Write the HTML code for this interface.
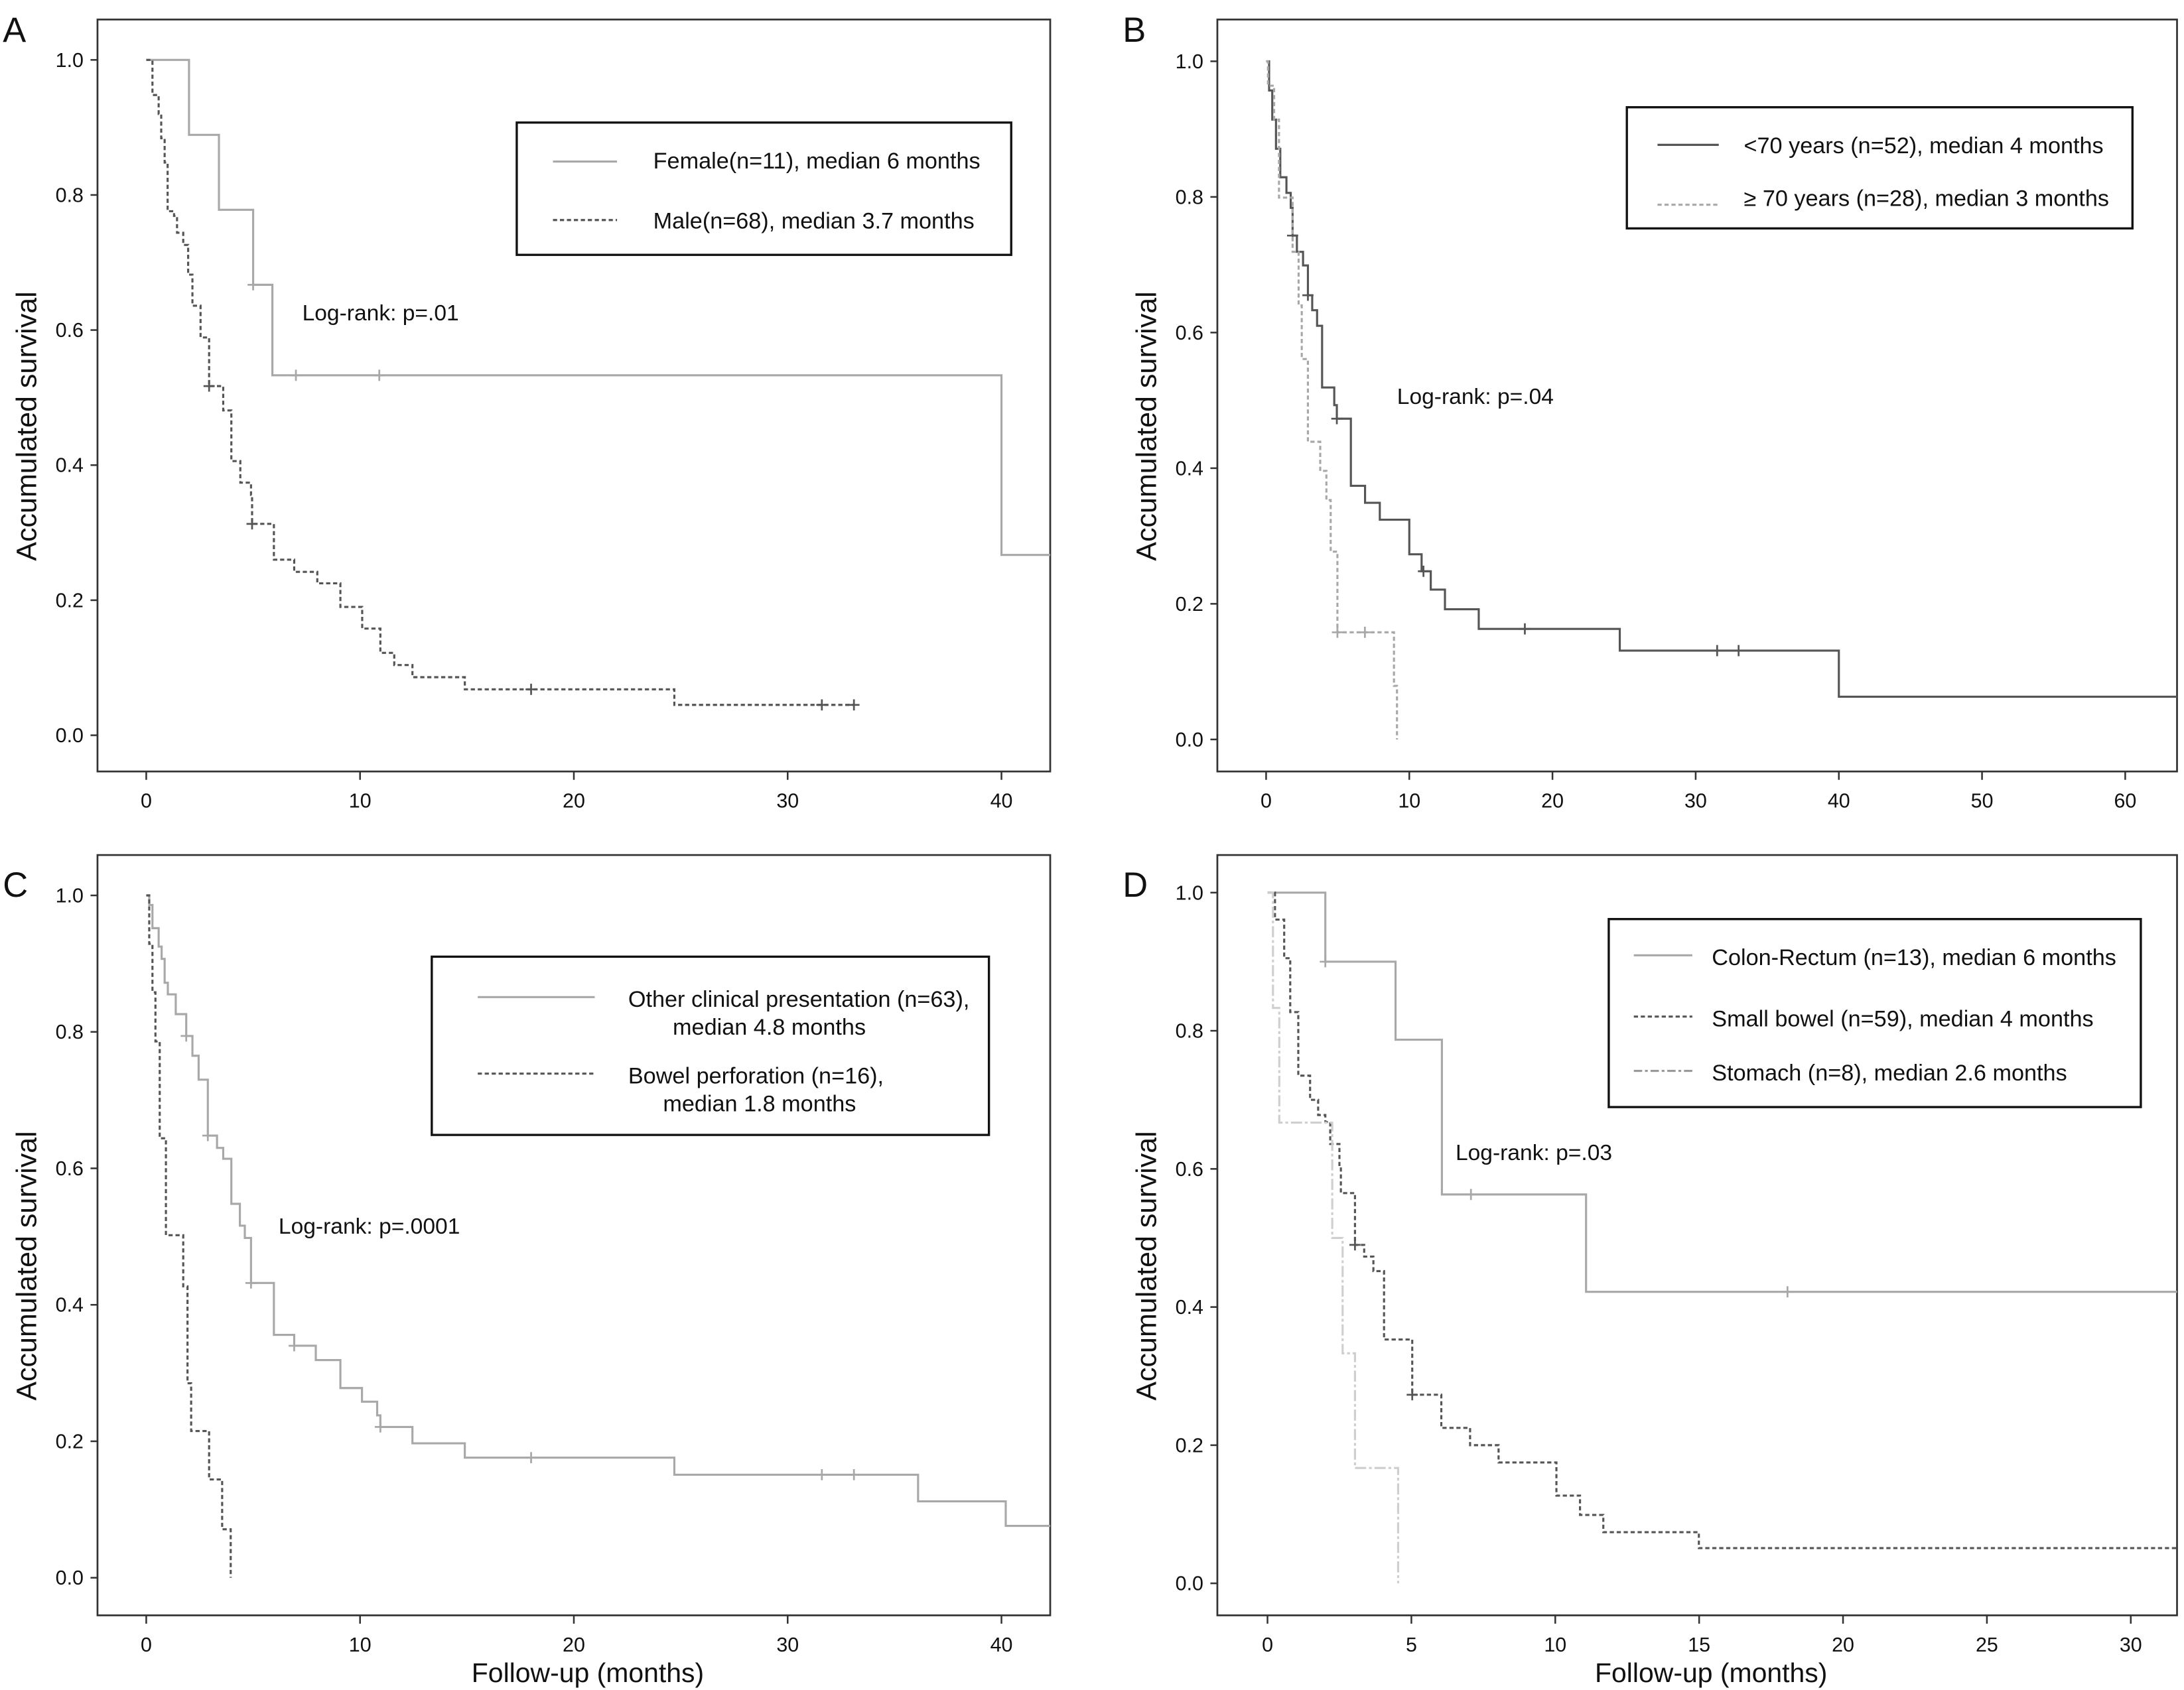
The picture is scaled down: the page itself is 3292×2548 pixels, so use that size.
<!DOCTYPE html>
<html><head><meta charset="utf-8"><style>
html,body{margin:0;padding:0;background:#fff}
svg{display:block}
text{font-family:"Liberation Sans",Arial,sans-serif;fill:#111}
</style></head><body>
<svg id="chart" width="3292" height="2548" viewBox="0 0 1568 1213.6" xmlns="http://www.w3.org/2000/svg"></svg>
<script>
// Panel A
const aFemaleT=[2.0,3.4,5.0,5.9,40];
const aFemaleS=[0.889,0.778,0.667,0.533,0.267];
const aFemaleC=[5.0,7.0,10.9];
const aMaleT=[0.29,0.58,0.7,0.86,1.0,1.3,1.44,1.73,1.96,2.16,2.54,2.94,3.6,3.98,4.4,4.9,4.95,5.97,6.92,8.0,9.08,10.1,10.95,11.6,12.45,14.9,24.7];
const aMaleS=[0.948,0.92,0.884,0.848,0.776,0.769,0.744,0.726,0.682,0.636,0.589,0.517,0.481,0.406,0.374,0.356,0.313,0.26,0.242,0.225,0.19,0.158,0.122,0.104,0.086,0.068,0.045];
const aMaleC=[2.94,4.95,18.0,31.6,33.1];
const aMaleEnd=33.1;
// Panel B
const bYoungT=[0.21,0.43,0.69,0.99,1.42,1.72,1.85,2.15,2.58,2.92,3.22,3.56,3.91,4.76,4.94,5.92,6.91,7.94,10.0,10.86,11.5,12.49,14.85,24.7,40.0];
const bYoungS=[0.957,0.914,0.871,0.829,0.806,0.784,0.743,0.719,0.699,0.655,0.633,0.61,0.519,0.493,0.473,0.374,0.349,0.324,0.273,0.248,0.221,0.192,0.163,0.131,0.063];
const bYoungC=[1.85,2.92,4.94,10.99,18.07,31.5,33.0];
const bOldT=[0.13,0.56,0.9,1.85,2.27,2.49,2.92,3.78,4.21,4.51,4.98,8.93,9.14];
const bOldS=[0.964,0.914,0.799,0.719,0.64,0.561,0.439,0.396,0.353,0.277,0.158,0.079,0];
const bOldC=[4.98,6.9];
const bOldEnd=9.14;
// Panel C
const cOtherT=[0.14,0.29,0.58,0.72,0.86,1.01,1.38,1.87,2.16,2.45,2.88,3.31,3.6,3.98,4.38,4.61,4.9,5.97,6.92,7.93,9.08,10.09,10.8,10.95,12.45,14.9,24.7,36.1,40.2];
const cOtherS=[0.986,0.952,0.925,0.907,0.872,0.855,0.826,0.794,0.765,0.73,0.648,0.63,0.614,0.548,0.516,0.498,0.432,0.356,0.34,0.319,0.278,0.258,0.238,0.221,0.197,0.176,0.151,0.112,0.076];
const cOtherC=[1.87,2.88,4.9,6.92,10.95,18.0,31.6,33.1];
const cPerfT=[0.14,0.29,0.43,0.63,0.92,1.73,1.93,2.1,2.94,3.55,3.95];
const cPerfS=[0.929,0.858,0.786,0.644,0.502,0.427,0.285,0.215,0.144,0.071,0];
const cPerfC=[];
const cPerfEnd=3.95;
// Panel D
const dColonT=[2.01,4.45,6.06,11.07];
const dColonS=[0.9,0.787,0.563,0.422];
const dColonC=[2.01,7.07,18.07];
const dSmallT=[0.26,0.58,0.79,1.07,1.48,1.76,2.01,2.18,2.5,2.55,3.04,3.36,3.68,4.05,5.03,6.04,7.04,8.03,10.04,10.86,11.67,14.99];
const dSmallS=[0.961,0.905,0.827,0.735,0.7,0.678,0.668,0.636,0.604,0.565,0.49,0.473,0.452,0.353,0.273,0.225,0.2,0.175,0.127,0.099,0.074,0.051];
const dSmallC=[3.04,5.03];
const dStomT=[0.19,0.41,2.25,2.61,3.04,4.54];
const dStomS=[0.833,0.667,0.5,0.333,0.167,0];
const dStomC=[];
const dStomEnd=4.54;
const yTicks=[0,0.2,0.4,0.6,0.8,1.0];
const aXTicks=[0,10,20,30,40];
const bXTicks=[0,10,20,30,40,50,60];
const dXTicks=[0,5,10,15,20,25,30];

const NS="http://www.w3.org/2000/svg";
const svg=document.getElementById('chart');
function mk(tag,attrs,parent){const e=document.createElementNS(NS,tag);for(const k in attrs)e.setAttribute(k,attrs[k]);(parent||svg).appendChild(e);return e;}
function txt(str,attrs,parent){const e=mk('text',attrs,parent);e.textContent=str;return e;}
function stepVal(T,S,t){let v=1;for(let i=0;i<T.length;i++){if(T[i]<=t+1e-9)v=S[i];}return v;}

function panel(p){
  const g=mk('g',{});
  
  
  const X=m=>p.x0+m*p.ppm, Y=s=>p.y0-(p.y0-p.y1)*s;
  const clipId='clip-'+p.label;
  const cp=mk('clipPath',{id:clipId},g);mk('rect',{x:p.bx1,y:p.by1,width:p.bx2-p.bx1,height:p.by2-p.by1},cp);
  const box=mk('rect',{x:p.bx1,y:p.by1,width:p.bx2-p.bx1,height:p.by2-p.by1,fill:'none',stroke:'#333','stroke-width':1.3},g);
  
  const lab=txt(p.label,{x:p.lx,y:p.ly,'font-size':25},g);
  
  yTicks.forEach(v=>{
    const t=mk('line',{x1:p.bx1-5,x2:p.bx1,y1:Y(v),y2:Y(v),stroke:'#333','stroke-width':1.2},g);
    
    const l=txt(v.toFixed(1),{x:p.bx1-10,y:Y(v)+5,'font-size':14.5,'text-anchor':'end'},g);
    
  });
  p.xticks.forEach(v=>{
    const t=mk('line',{x1:X(v),x2:X(v),y1:p.by2,y2:p.by2+6,stroke:'#333','stroke-width':1.2},g);
    
    const l=txt(String(v),{x:X(v),y:p.by2+26,'font-size':14.5,'text-anchor':'middle'},g);
    
  });
  const yt=txt('Accumulated survival',{x:0,y:0,'font-size':20.5,'text-anchor':'middle',transform:`translate(${p.bx1-44},${(p.by1+p.by2)/2+22}) rotate(-90)`},g);
  
  if(p.xtitle){const xt=txt('Follow-up (months)',{x:(p.bx1+p.bx2)/2+10,y:p.by2+48,'font-size':19.5,'text-anchor':'middle'},g);
    }
  const lr=txt(p.logrank,{x:p.lrx,y:p.lry,'font-size':16},g);
  
  p.series.forEach(s=>{
    let d=`M${X(0)},${Y(1)}`;
    for(let i=0;i<s.T.length;i++){d+=` H${X(s.T[i])} V${Y(s.S[i])}`;}
    d+=` H${X(s.end)}`;
    const path=mk('path',{d:d,fill:'none',stroke:s.color,'stroke-width':1.5,'clip-path':`url(#${clipId})`},g);
    if(s.dash)path.setAttribute('stroke-dasharray',s.dash);
    
    s.C.forEach(c=>{
      const cx=X(c),cy=Y(stepVal(s.T,s.S,c));
      const cm=mk('path',{d:`M${cx-4},${cy} H${cx+4} M${cx},${cy-4} V${cy+4}`,stroke:s.color,'stroke-width':1.3},g);
      
    });
  });
  const L=p.legend;
  const lg=mk('g',{},g);
  mk('rect',{x:L.x,y:L.y,width:L.w,height:L.h,fill:'#fff',stroke:'#111','stroke-width':1.6},lg);
  L.items.forEach(it=>{
    const e=mk('g',{},lg);
    const ln=mk('line',{x1:it.lx1,x2:it.lx2,y1:it.ly,y2:it.ly,stroke:it.color,'stroke-width':1.5},e);
    if(it.dash)ln.setAttribute('stroke-dasharray',it.dash);
    it.lines.forEach((t,k)=>txt(t,{x:it.tx[k],y:it.ty+k*20,'font-size':16.3},e));
  });
}

const LIGHT='#a8a8a8',DARK='#555',VLIGHT='#cfcfcf';
panel({name:'panel-a-sex',label:'A',lx:2,ly:30,bx1:70,bx2:754,by1:14,by2:554,x0:105,ppm:15.35,y1:43,y0:528,xticks:aXTicks,xtitle:false,
  logrank:'Log-rank: p=.01',lrx:217,lry:230,
  series:[{name:'female',T:aFemaleT,S:aFemaleS,C:aFemaleC,end:43,color:LIGHT},
          {name:'male',T:aMaleT,S:aMaleS,C:aMaleC,end:aMaleEnd,color:DARK,dash:'3,2'}],
  legend:{x:371,y:88,w:355,h:95,items:[
    {lx1:397,lx2:443,ly:116,color:LIGHT,lines:['Female(n=11), median 6 months'],tx:[469],ty:121},
    {lx1:397,lx2:443,ly:158,color:DARK,dash:'3,2',lines:['Male(n=68), median 3.7 months'],tx:[469],ty:164}]}});
panel({name:'panel-b-age',label:'B',lx:806,ly:30,bx1:874,bx2:1563,by1:14,by2:554,x0:909,ppm:10.28,y1:44,y0:531,xticks:bXTicks,xtitle:false,
  logrank:'Log-rank: p=.04',lrx:1003,lry:290,
  series:[{name:'under-70',T:bYoungT,S:bYoungS,C:bYoungC,end:66,color:DARK},
          {name:'70-plus',T:bOldT,S:bOldS,C:bOldC,end:bOldEnd,color:LIGHT,dash:'3,2'}],
  legend:{x:1168,y:77,w:363,h:87,items:[
    {lx1:1190,lx2:1234,ly:104,color:DARK,lines:['<70 years (n=52), median  4 months'],tx:[1252],ty:110},
    {lx1:1190,lx2:1234,ly:147,color:LIGHT,dash:'3,2',lines:['\u2265  70 years (n=28), median 3 months'],tx:[1252],ty:148}]}});
panel({name:'panel-c-presentation',label:'C',lx:2,ly:644,bx1:70,bx2:754,by1:614,by2:1160,x0:105,ppm:15.35,y1:643,y0:1133,xticks:aXTicks,xtitle:true,
  logrank:'Log-rank: p=.0001',lrx:200,lry:886,
  series:[{name:'other-presentation',T:cOtherT,S:cOtherS,C:cOtherC,end:43,color:LIGHT},
          {name:'bowel-perforation',T:cPerfT,S:cPerfS,C:cPerfC,end:cPerfEnd,color:DARK,dash:'3,2'}],
  legend:{x:310,y:687,w:400,h:128,items:[
    {lx1:343,lx2:427,ly:716,color:LIGHT,lines:['Other clinical presentation (n=63),','median 4.8 months'],tx:[451,483],ty:723},
    {lx1:343,lx2:427,ly:771,color:DARK,dash:'3,2',lines:['Bowel perforation (n=16),','median 1.8 months'],tx:[451,476],ty:778}]}});
panel({name:'panel-d-site',label:'D',lx:806,ly:644,bx1:874,bx2:1563,by1:614,by2:1160,x0:910,ppm:20.66,y1:641,y0:1137,xticks:dXTicks,xtitle:true,
  logrank:'Log-rank: p=.03',lrx:1045,lry:833,
  series:[{name:'colon-rectum',T:dColonT,S:dColonS,C:dColonC,end:33,color:LIGHT},
          {name:'small-bowel',T:dSmallT,S:dSmallS,C:dSmallC,end:33,color:DARK,dash:'3,2'},
          {name:'stomach',T:dStomT,S:dStomS,C:dStomC,end:dStomEnd,color:VLIGHT,dash:'8,2,2,2'}],
  legend:{x:1155,y:660,w:382,h:135,items:[
    {lx1:1173,lx2:1215,ly:686,color:LIGHT,lines:['Colon-Rectum (n=13), median 6 months'],tx:[1229],ty:693},
    {lx1:1173,lx2:1215,ly:730,color:DARK,dash:'3,2',lines:['Small bowel (n=59), median 4 months'],tx:[1229],ty:737},
    {lx1:1173,lx2:1215,ly:769,color:'#999',dash:'6,2,2,2',lines:['Stomach (n=8), median 2.6 months'],tx:[1229],ty:776}]}});
</script>
</body></html>
